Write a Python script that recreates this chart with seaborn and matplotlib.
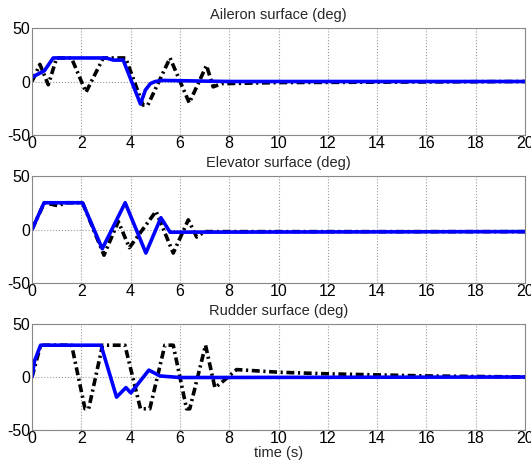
import matplotlib
matplotlib.use("Agg")
import matplotlib.pyplot as plt
import seaborn as sns
import pandas as pd

# ---- data (breakpoints) ----
ail_cmd_t = [0, 0.5, 0.86, 3.0, 3.3, 3.7, 4.4, 4.6, 4.8, 5.0, 5.3, 8.0, 20]
ail_cmd_v = [4, 10, 22, 22, 20, 20, -21, -8, -2, 0, 1, 0, 0]
ail_act_t = [0, 0.32, 0.66, 1.0, 1.6, 2.19, 2.89, 3.8, 4.5, 4.7, 5.6, 6.38, 7.08, 7.35, 7.7, 10.0, 20]
ail_act_v = [0, 16, -3, 22, 22, -10, 22, 22, -22, -22, 22, -20, 15, -5, -2, -1, 0]

ele_cmd_t = [0, 0.49, 2.05, 2.85, 3.78, 4.62, 5.23, 5.6, 20]
ele_cmd_v = [0, 25, 25, -18, 25, -22, 11, -2.5, -2]
ele_act_t = [0, 0.5, 1.1, 1.3, 2.05, 2.92, 3.5, 3.95, 5.03, 5.73, 6.34, 6.68, 7.0, 20]
ele_act_v = [0, 25, 22, 25, 25, -24, 7.5, -17, 17, -22, 9, -7, -2, -2]

rud_cmd_t = [0, 0.1, 0.35, 2.8, 3.43, 3.81, 4.01, 4.74, 5.19, 6.0, 20]
rud_cmd_v = [0, 15, 30, 30, -19, -10, -15, 6.5, 1, -0.5, 0]
rud_act_t = [0, 0.35, 1.61, 2.15, 2.3, 2.86, 3.77, 4.4, 4.78, 5.39, 5.73, 6.27, 6.4, 7.04, 7.42, 7.7, 8.3, 10, 12, 14, 16, 20]
rud_act_v = [0, 30, 30, -30, -30, 30, 30, -30, -30, 30, 30, -30, -30, 30, -10, -5, 7, 4.5, 3, 2, 1, 0]

titles = ["Aileron surface (deg)", "Elevator surface (deg)", "Rudder surface (deg)"]
x_ticks = [0, 2, 4, 6, 8, 10, 12, 14, 16, 18, 20]
y_ticks = [-50, 0, 50]

series = [
    (ail_cmd_t, ail_cmd_v, ail_act_t, ail_act_v),
    (ele_cmd_t, ele_cmd_v, ele_act_t, ele_act_v),
    (rud_cmd_t, rud_cmd_v, rud_act_t, rud_act_v),
]

sns.set_theme(style="white")
plt.rcParams['font.family'] = ['Liberation Sans', 'DejaVu Sans']
plt.rcParams['axes.unicode_minus'] = False

fig = plt.figure(figsize=(5.31, 4.63), dpi=100)
W, H = 531, 463
boxes = [(28, 135), (176, 283), (324, 430)]
for i, ((ct, cv, at, av), (top, bot)) in enumerate(zip(series, boxes)):
    ax = fig.add_axes([32 / W, 1 - bot / H, (525 - 32) / W, (bot - top) / H])
    ax.set_facecolor("white")
    sns.lineplot(x=at, y=av, ax=ax, color="black", linewidth=2.6, sort=False,
                 estimator=None, linestyle=(0, (2.2, 1.0, 0.6, 1.0)))
    sns.lineplot(x=ct, y=cv, ax=ax, color="#0000ff", linewidth=2.6, sort=False,
                 estimator=None)
    ax.set_xlim(0, 20)
    ax.set_ylim(-50, 50)
    ax.set_xticks(x_ticks)
    ax.set_yticks(y_ticks)
    ax.tick_params(axis="both", labelsize=11.5, direction="in", length=3,
                   pad=1, colors="black", color="#888888")
    ax.grid(True, linestyle=":", color="#999999", linewidth=0.8)
    for s in ax.spines.values():
        s.set_color("#888888")
        s.set_linewidth(0.8)
    ax.set_title(titles[i], fontsize=10.5, pad=6.5)
    ax.set_ylabel("")
    if i == 2:
        ax.set_xlabel("time (s)", fontsize=10.5, labelpad=0)
    else:
        ax.set_xlabel("")

fig.savefig("out.png", dpi=100)
